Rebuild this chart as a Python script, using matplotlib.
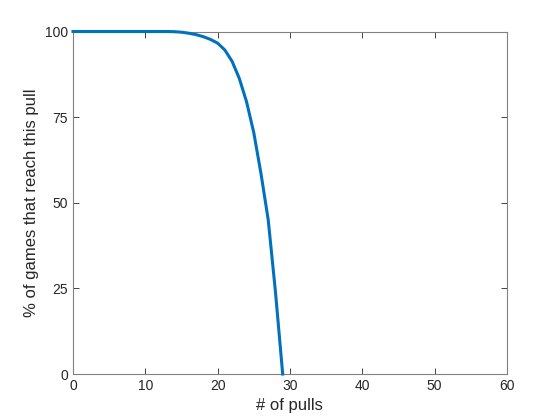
import matplotlib
matplotlib.use("Agg")
import matplotlib.pyplot as plt

# values
pulls = list(range(0, 30))
pct = [100] * 14 + [99.95, 99.8, 99.5, 99.1, 98.5, 97.7, 96.6, 94.6, 91.3, 86.3,
                    79.5, 70.5, 58.5, 45.0, 24.0, 0.0]
xticks = [0, 10, 20, 30, 40, 50, 60]
yticks = [0, 25, 50, 75, 100]

plt.rcParams['font.family'] = ['Liberation Sans', 'DejaVu Sans']

fig = plt.figure(figsize=(5.6, 4.2), dpi=100)
ax = fig.add_axes([0.1304, 0.1095, 0.7746, 0.8155])
ax.plot(pulls, pct, color='#0072BD', linewidth=2.2, clip_on=False, zorder=3)

ax.set_xlim(0, 60)
ax.set_ylim(0, 100)
ax.set_xticks(xticks)
ax.set_yticks(yticks)
ax.tick_params(direction='in', length=4, width=0.6, colors='#262626',
               labelsize=10, top=True, right=True, labeltop=False, labelright=False)
for s in ax.spines.values():
    s.set_color('#808080')
    s.set_linewidth(0.8)
ax.set_xlabel('# of pulls', fontsize=12, color='#262626')
ax.set_ylabel('% of games that reach this pull', fontsize=12, color='#262626')

fig.savefig('out.png', dpi=100)
